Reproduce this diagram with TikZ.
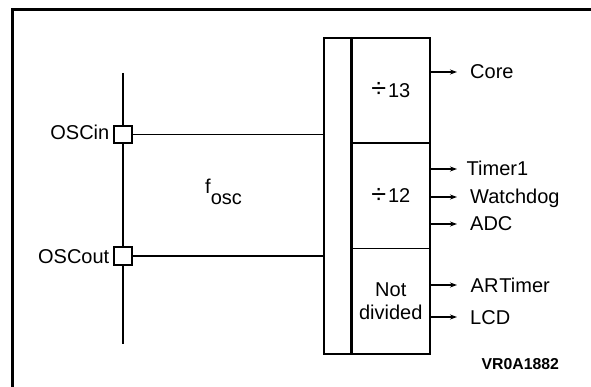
\documentclass[tikz,border=0pt]{standalone}
\usepackage{fontspec}
\setmainfont{Liberation Sans}
\usetikzlibrary{arrows.meta}
\newcommand{\dvd}{\raisebox{-0.5pt}{\scalebox{1.35}{÷}}\kern2pt}
\begin{document}
\begin{tikzpicture}[x=1pt,y=-1pt,
  txt/.style={font=\fontsize{20}{22.6}\selectfont, inner sep=0pt},
  sect/.style={draw, line width=1.6pt, minimum width=78pt, minimum height=105.33pt,
    inner sep=0pt, anchor=north west, txt, align=center},
  bus/.style={draw, line width=2.4pt, minimum width=106pt, minimum height=316pt,
    inner sep=0pt, anchor=north west},
  pinbox/.style={draw, fill=white, line width=1.7pt, minimum size=17.5pt, inner sep=0pt},
  lbl/.style={txt, text height=14pt, text depth=0pt},
  outarrow/.style={-{Stealth[length=7pt,width=5pt]}, line width=1.6pt, shorten >=13pt},
  wire/.style={line width=1.5pt},
  frame/.style={line width=3pt}
]
\useasboundingbox (0,0) rectangle (591,387);
% frame
\draw[frame] (591,9.5) -- (12,9.5) -- (12,387);

% sections of the divider block
\node[sect] (d13) at (351,37) {\dvd 13};
\node[sect] (d12) at (351,142.33) {\dvd 12};
\node[sect] (nd) at (351,247.66) {Not\\divided};
\node[bus] (box) at (323,37) {};
\draw[line width=1.6pt] (d13.north west) -- (nd.south west);

% oscillator pins
\coordinate (vtop) at (123,73);
\coordinate (vbot) at (123,344);
\draw[wire, line width=1.6pt] (vtop) -- (vbot);
\node[pinbox] (oscin) at (123,134.5) {};
\node[pinbox] (oscout) at (123,256) {};
\node[lbl, anchor=east] (oscinl) at (109.5,133) {OSCin};
\node[lbl, anchor=east] (oscoutl) at (109.5,256.5) {OSCout};
\draw[wire] (oscin.east) -- (oscin.east -| box.west);
\draw[wire] (oscout.east) -- (oscout.east -| box.west);
\node[txt, anchor=base west] (fosc) at (205,194) {f\raisebox{-11pt}{osc}};

% outputs
\node[lbl, anchor=west] (core) at (470,72) {Core};
\node[lbl, anchor=west] (timer) at (466.5,169) {Timer1};
\node[lbl, anchor=west] (wdog) at (470,197) {Watchdog};
\node[lbl, anchor=west] (adc) at (470,224) {ADC};
\node[lbl, anchor=west] (art) at (470.5,285) {AR\kern1ptTimer};
\node[lbl, anchor=west] (lcd) at (470,317) {LCD};
\draw[outarrow] (core.west -| box.east) -- (core.west);
\draw[outarrow, shorten >=9.5pt] (timer.west -| box.east) -- (timer.west);
\draw[outarrow, line width=2.2pt] (wdog.west -| box.east) -- (wdog.west);
\draw[outarrow] (adc.west -| box.east) -- (adc.west);
\draw[outarrow, line width=2.2pt, shorten >=13.5pt] (art.west -| box.east) -- (art.west);
\draw[outarrow] (lcd.west -| box.east) -- (lcd.west);

\node[inner sep=0pt, anchor=base west, font=\fontsize{15.8}{18}\selectfont\bfseries] (ref) at (481.5,369) {VR0A1882};
\end{tikzpicture}
\end{document}
